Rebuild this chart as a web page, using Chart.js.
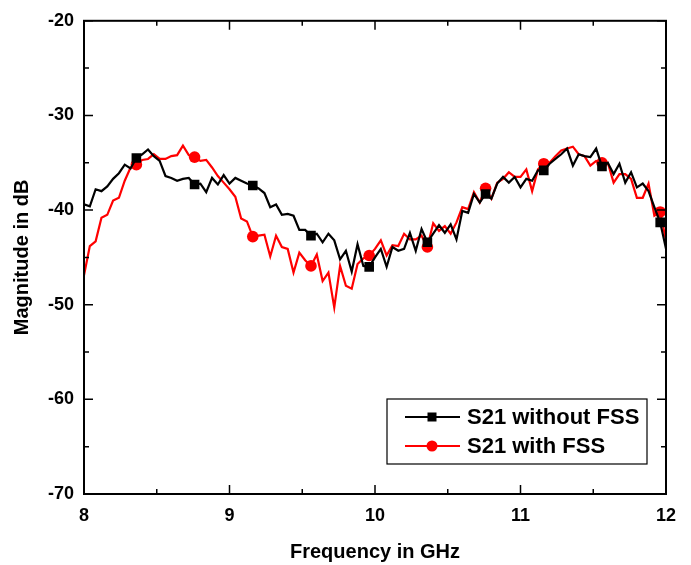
<!DOCTYPE html>
<html>
<head>
<meta charset="utf-8">
<script src="https://cdn.jsdelivr.net/npm/chart.js@4.4.1/dist/chart.umd.min.js"></script>
<style>
  html, body { margin: 0; padding: 0; background: #fff; }
  canvas { display: block; }
</style>
</head>
<body>
<canvas id="s21Chart" width="691" height="565"></canvas>
<script>
// Frequency points (GHz), 0.04 GHz steps
const freq = [
  8.00, 8.04, 8.08, 8.12, 8.16, 8.20, 8.24, 8.28, 8.32, 8.36,
  8.40, 8.44, 8.48, 8.52, 8.56, 8.60, 8.64, 8.68, 8.72, 8.76,
  8.80, 8.84, 8.88, 8.92, 8.96, 9.00, 9.04, 9.08, 9.12, 9.16,
  9.20, 9.24, 9.28, 9.32, 9.36, 9.40, 9.44, 9.48, 9.52, 9.56,
  9.60, 9.64, 9.68, 9.72, 9.76, 9.80, 9.84, 9.88, 9.92, 9.96,
  10.00, 10.04, 10.08, 10.12, 10.16, 10.20, 10.24, 10.28, 10.32, 10.36,
  10.40, 10.44, 10.48, 10.52, 10.56, 10.60, 10.64, 10.68, 10.72, 10.76,
  10.80, 10.84, 10.88, 10.92, 10.96, 11.00, 11.04, 11.08, 11.12, 11.16,
  11.20, 11.24, 11.28, 11.32, 11.36, 11.40, 11.44, 11.48, 11.52, 11.56,
  11.60, 11.64, 11.68, 11.72, 11.76, 11.80, 11.84, 11.88, 11.92, 11.96,
  12.00
];

// S21 without FSS (dB)
const s21Without = [
  -39.4, -39.6, -37.8, -38.0, -37.5, -36.7, -36.1, -35.2, -35.6, -34.5,
  -34.1, -33.6, -34.3, -34.8, -36.4, -36.6, -36.9, -36.7, -36.6, -37.3,
  -37.2, -38.1, -36.6, -37.3, -36.3, -37.2, -36.6, -36.9, -37.2, -37.4,
  -37.7, -38.2, -39.7, -39.4, -40.5, -40.4, -40.6, -42.1, -42.1, -42.7,
  -42.5, -43.4, -42.5, -43.2, -45.2, -44.3, -46.5, -43.6, -45.9, -46.0,
  -45.0, -44.1, -46.0, -43.9, -44.3, -44.1, -42.4, -44.3, -42.0, -43.4,
  -42.5, -41.6, -42.4, -41.5, -43.1, -40.1, -40.3, -38.3, -39.2, -38.3,
  -38.8, -37.2, -36.5, -37.1, -36.5, -37.6, -36.7, -36.9, -35.8, -35.8,
  -35.1, -34.6, -34.1, -33.5, -35.3, -34.1, -34.3, -34.4, -33.5, -35.4,
  -35.0, -36.2, -35.1, -37.1, -36.0, -37.6, -37.2, -38.0, -39.7, -41.3,
  -44.1
];

// S21 with FSS (dB)
const s21With = [
  -46.9, -43.8, -43.3, -40.8, -40.5, -39.0, -38.7, -36.9, -35.5, -35.2,
  -34.7, -34.6, -34.1, -34.6, -34.6, -34.3, -34.2, -33.2, -34.2, -34.4,
  -34.8, -34.7, -35.5, -36.4, -37.1, -37.8, -38.6, -40.9, -41.2, -42.8,
  -42.7, -42.6, -44.9, -42.7, -43.9, -44.1, -46.6, -44.5, -45.3, -45.9,
  -44.7, -47.5, -46.6, -50.3, -45.9, -48.0, -48.3, -45.7, -45.1, -44.8,
  -44.1, -43.2, -44.8, -43.7, -43.8, -42.5, -43.1, -43.1, -42.7, -43.9,
  -41.4, -42.2, -41.7, -42.5, -41.3, -39.7, -39.9, -38.1, -39.2, -37.7,
  -38.8, -37.1, -36.7, -36.0, -36.5, -36.5, -35.7, -38.0, -35.7, -35.1,
  -35.0, -34.3, -33.7, -33.5, -33.3, -34.1, -34.3, -35.3, -34.8, -35.0,
  -35.0, -37.1, -36.2, -36.2, -36.7, -38.7, -38.7, -37.2, -40.6, -40.2,
  -43.2
];

const seriesNames = ['S21 without FSS', 'S21 with FSS'];
const seriesColors = ['#000000', '#ff0000'];
const seriesStyles = ['rect', 'circle'];
const seriesRadius = [6.8, 5.8];

const FONT = '"Liberation Sans", Arial, sans-serif';

// marker on every 10th sample
const markerRadius = r => ctx => (ctx.index % 10 === 9 ? r : 0);

// inward ticks on all four sides + closed frame
const frameTicks = {
  id: 'frameTicks',
  afterDatasetsDraw(chart) {
    const { ctx, chartArea: a, scales } = chart;
    const xs = scales.x, ys = scales.y;
    ctx.save();
    ctx.strokeStyle = '#000';
    ctx.lineWidth = 2;
    ctx.strokeRect(a.left, a.top, a.right - a.left, a.bottom - a.top);
    ctx.lineWidth = 1.5;
    const major = 9, minor = 5;
    const xt = xs.ticks.map(t => t.value);
    xt.forEach((v, i) => {
      const marks = [[v, major]];
      if (i < xt.length - 1) marks.push([(v + xt[i + 1]) / 2, minor]);
      marks.forEach(([val, len]) => {
        const px = xs.getPixelForValue(val);
        ctx.beginPath();
        ctx.moveTo(px, a.bottom); ctx.lineTo(px, a.bottom - len);
        ctx.moveTo(px, a.top); ctx.lineTo(px, a.top + len);
        ctx.stroke();
      });
    });
    const yt = ys.ticks.map(t => t.value);
    yt.forEach((v, i) => {
      const marks = [[v, major]];
      if (i < yt.length - 1) marks.push([(v + yt[i + 1]) / 2, minor]);
      marks.forEach(([val, len]) => {
        const py = ys.getPixelForValue(val);
        ctx.beginPath();
        ctx.moveTo(a.left, py); ctx.lineTo(a.left + len, py);
        ctx.moveTo(a.right, py); ctx.lineTo(a.right - len, py);
        ctx.stroke();
      });
    });
    ctx.restore();
  }
};

// boxed legend inside the lower right of the plot
const boxLegend = {
  id: 'boxLegend',
  afterDraw(chart) {
    const { ctx } = chart;
    const bx = 387, by = 399, bw = 260, bh = 65;
    ctx.save();
    ctx.fillStyle = '#fff';
    ctx.fillRect(bx, by, bw, bh);
    ctx.strokeStyle = '#000';
    ctx.lineWidth = 1.2;
    ctx.strokeRect(bx, by, bw, bh);
    seriesNames.forEach((name, i) => {
      const cy = by + 18 + i * 29;
      ctx.strokeStyle = seriesColors[i];
      ctx.lineWidth = 2.2;
      ctx.beginPath();
      ctx.moveTo(405, cy); ctx.lineTo(460, cy);
      ctx.stroke();
      ctx.fillStyle = seriesColors[i];
      if (seriesStyles[i] === 'rect') {
        ctx.fillRect(432 - 4.5, cy - 4.5, 9, 9);
      } else {
        ctx.beginPath();
        ctx.arc(432, cy, 5.5, 0, Math.PI * 2);
        ctx.fill();
      }
      ctx.fillStyle = '#000';
      ctx.font = 'bold 22px ' + FONT;
      ctx.textBaseline = 'middle';
      ctx.textAlign = 'left';
      ctx.fillText(name, 467, cy + 1);
    });
    ctx.restore();
  }
};

const s21Ctx = document.getElementById('s21Chart').getContext('2d');
new Chart(s21Ctx, {
  type: 'line',
  data: {
    datasets: [s21Without, s21With].map((vals, i) => ({
      label: seriesNames[i],
      data: freq.map((f, k) => ({ x: f, y: vals[k] })),
      borderColor: seriesColors[i],
      backgroundColor: seriesColors[i],
      borderWidth: 2.2,
      tension: 0,
      fill: false,
      pointStyle: seriesStyles[i],
      pointRadius: markerRadius(seriesRadius[i]),
      pointBorderWidth: 0
    }))
  },
  options: {
    responsive: false,
    animation: false,
    events: [],
    layout: { padding: { top: 20, right: 25, left: 0, bottom: 0 } },
    plugins: {
      legend: { display: false },
      tooltip: { enabled: false }
    },
    scales: {
      x: {
        type: 'linear',
        min: 8,
        max: 12,
        afterFit: s => { s.height = 71; },
        grid: { display: false, drawTicks: false },
        border: { display: false },
        ticks: { stepSize: 1, padding: 11, color: '#000', font: { family: FONT, size: 18, weight: 'bold' } },
        title: {
          display: true,
          text: 'Frequency in GHz',
          color: '#000',
          padding: { top: 0, bottom: 1 },
          font: { family: FONT, size: 20, weight: 'bold' }
        }
      },
      y: {
        min: -70,
        max: -20,
        afterFit: s => { s.width = 84; },
        grid: { display: false, drawTicks: false },
        border: { display: false },
        ticks: { stepSize: 10, padding: 10, color: '#000', font: { family: FONT, size: 18, weight: 'bold' } },
        title: {
          display: true,
          text: 'Magnitude in dB',
          color: '#000',
          padding: { top: 10, bottom: 0 },
          font: { family: FONT, size: 20, weight: 'bold' }
        }
      }
    }
  },
  plugins: [frameTicks, boxLegend]
});
</script>
</body>
</html>
